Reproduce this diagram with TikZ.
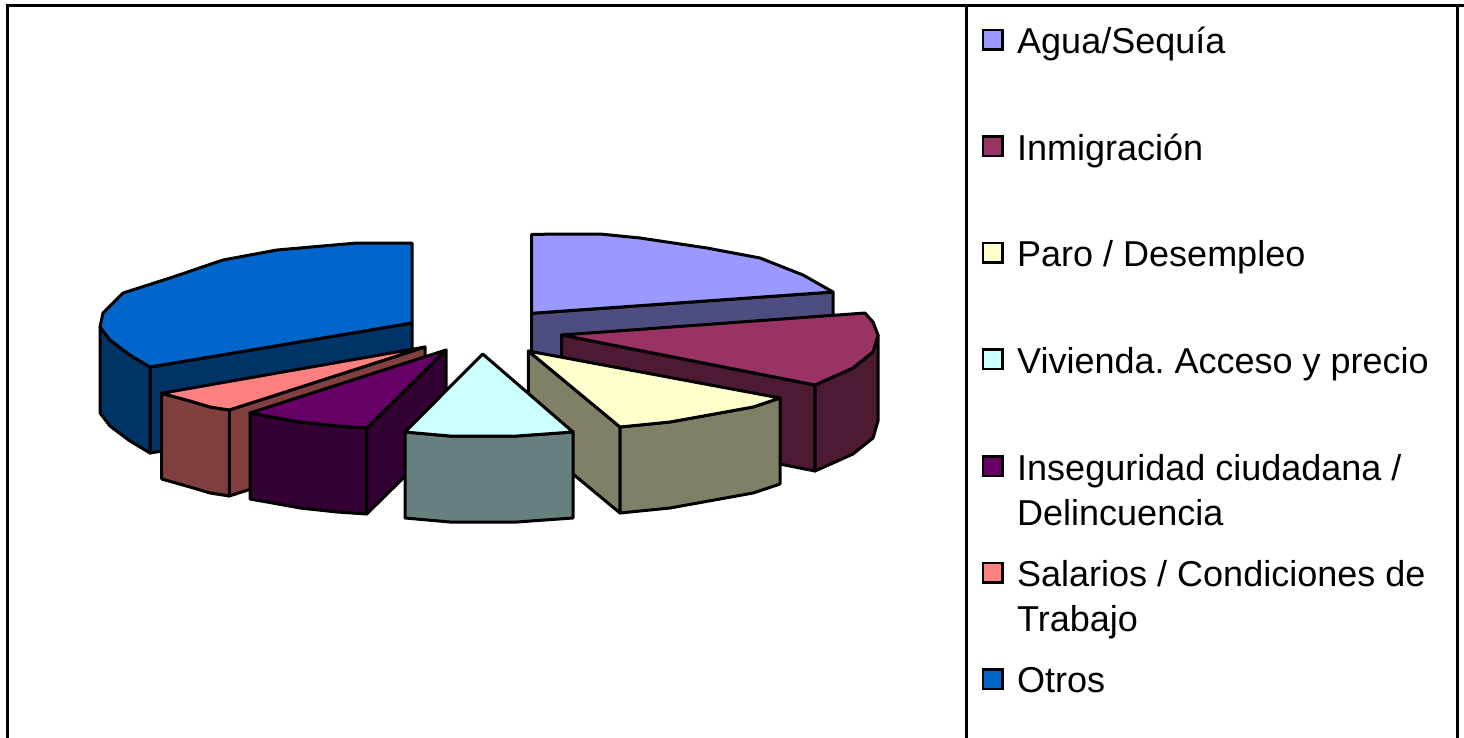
\documentclass[tikz,border=0pt]{standalone}
\usepackage{fontspec}
\setmainfont{Liberation Sans}
\usepackage{tikz}
\frenchspacing

\definecolor{aguatop}{HTML}{9999FF}
\definecolor{aguaside}{HTML}{4D4D80}
\definecolor{inmtop}{HTML}{993366}
\definecolor{inmside}{HTML}{4D1A33}
\definecolor{parotop}{HTML}{FFFFCC}
\definecolor{paroside}{HTML}{808066}
\definecolor{vivtop}{HTML}{CCFFFF}
\definecolor{vivside}{HTML}{668080}
\definecolor{insegtop}{HTML}{660066}
\definecolor{insegside}{HTML}{330033}
\definecolor{saltop}{HTML}{FF8080}
\definecolor{salside}{HTML}{804040}
\definecolor{otrostop}{HTML}{0066CC}
\definecolor{otrosside}{HTML}{003366}

\tikzset{
  slice/.style={draw=black,line width=3pt,line join=round},
  frame/.style={line width=3pt},
  legbox/.style={draw=black,line width=2.5pt,minimum size=19.5pt,inner sep=0pt},
  legtext/.style={anchor=base west,inner sep=0pt,align=left,font=\fontsize{36}{45.5}\selectfont}
}

\begin{document}
\begin{tikzpicture}[x=1pt,y=-1pt]
	\useasboundingbox (0,0) rectangle (1464,737);
	% frame and legend box
	\draw[frame] (7.5,740)--(7.5,5.5)--(1470,5.5);
	\draw[frame] (966,5.5)--(966,740);
	\draw[frame] (1457,5.5)--(1457,740);
	% Otros
	\draw[slice,fill=otrosside] (150,367)--(412,323)--(412,409)--(150,453)--cycle;
	\draw[slice,fill=otrosside] (100,327)--(110,340)--(130,355)--(150,367)--(150,453)--(130,441)--(110,426)--(100,413)--cycle;
	\draw[slice,fill=otrostop] (412,323)--(412,243)--(357,243)--(277,250)--(223,260)--(173,277)--(123,293)--(103,313)--(100,327)--(110,340)--(130,355)--(150,367)--cycle;
	% Agua/Sequia
	\draw[slice,fill=aguaside] (531.7,313.3)--(833,292)--(833,378)--(531.7,399)--cycle;
	\draw[slice,fill=aguatop] (531.7,313.3)--(531.7,234.3)--(600,234)--(640,238)--(707,248)--(760,258)--(803,275)--(833,292)--cycle;
	% Inmigracion
	\draw[slice,fill=inmside] (561.7,335)--(815,385)--(815,471)--(561.7,421)--cycle;
	\draw[slice,fill=inmside] (878,335)--(873,352)--(853,368)--(833,377)--(815,385)--(815,471)--(833,463)--(853,454)--(873,438)--(878,421)--cycle;
	\draw[slice,fill=inmtop] (561.7,335)--(865,313)--(873,322)--(878,335)--(873,352)--(853,368)--(833,377)--(815,385)--cycle;
	% Salarios
	\draw[slice,fill=salside] (229.3,410)--(425,347)--(425,433)--(229.3,496)--cycle;
	\draw[slice,fill=salside] (161.7,393.3)--(190,401)--(210,407)--(229.3,410)--(229.3,496)--(210,493)--(190,487)--(161.7,479)--cycle;
	\draw[slice,fill=saltop] (425,347)--(229.3,410)--(210,407)--(190,401)--(161.7,393.3)--cycle;
	% Inseguridad
	\draw[slice,fill=insegside] (366.7,428)--(446,350)--(446,436)--(366.7,514)--cycle;
	\draw[slice,fill=insegside] (250,413)--(267,416)--(300,422)--(337,426)--(366.7,428)--(366.7,514)--(337,512)--(300,508)--(267,502)--(250,499)--cycle;
	\draw[slice,fill=insegtop] (446,350)--(366.7,428)--(337,426)--(300,422)--(267,416)--(250,413)--cycle;
	% Paro
	\draw[slice,fill=paroside] (528.3,351)--(620,427)--(620,513)--(528.3,437)--cycle;
	\draw[slice,fill=paroside] (780,398)--(753,407)--(720,413)--(670,422)--(620,427)--(620,513)--(670,508)--(720,499)--(753,493)--(780,484)--cycle;
	\draw[slice,fill=parotop] (528.3,351)--(780,398)--(753,407)--(720,413)--(670,422)--(620,427)--cycle;
	% Vivienda
	\draw[slice,fill=vivside] (405,432)--(450,436)--(517,436)--(573,432)--(573,518)--(517,522)--(450,522)--(405,518)--cycle;
	\draw[slice,fill=vivtop] (482.7,354)--(573,432)--(517,436)--(450,436)--(405,432)--cycle;
	% legend
	\node[legbox,fill=aguatop] (aguabox) at (992.8,39.5){};
	\node[legtext] (agua) at (1017,53.5){Agua/Sequía};
	\node[legbox,fill=inmtop] (inmbox) at (992.8,146){};
	\node[legtext] (inm) at (1017,160){Inmigración};
	\node[legbox,fill=parotop] (parobox) at (992.8,252.5){};
	\node[legtext] (paro) at (1017,266.5){Paro / Desempleo};
	\node[legbox,fill=vivtop] (vivbox) at (992.8,359){};
	\node[legtext] (viv) at (1017,373){Vivienda. Acceso y precio};
	\node[legbox,fill=insegtop] (insegbox) at (992.8,466){};
	\node[legtext] (inseg) at (1017,525.5){Inseguridad ciudadana /\\Delincuencia};
	\node[legbox,fill=saltop] (salbox) at (992.8,572.5){};
	\node[legtext] (sal) at (1017,631.5){Salarios / Condiciones de\\Trabajo};
	\node[legbox,fill=otrostop] (otrosbox) at (992.8,679){};
	\node[legtext] (otros) at (1017,692){Otros};
\end{tikzpicture}
\end{document}
